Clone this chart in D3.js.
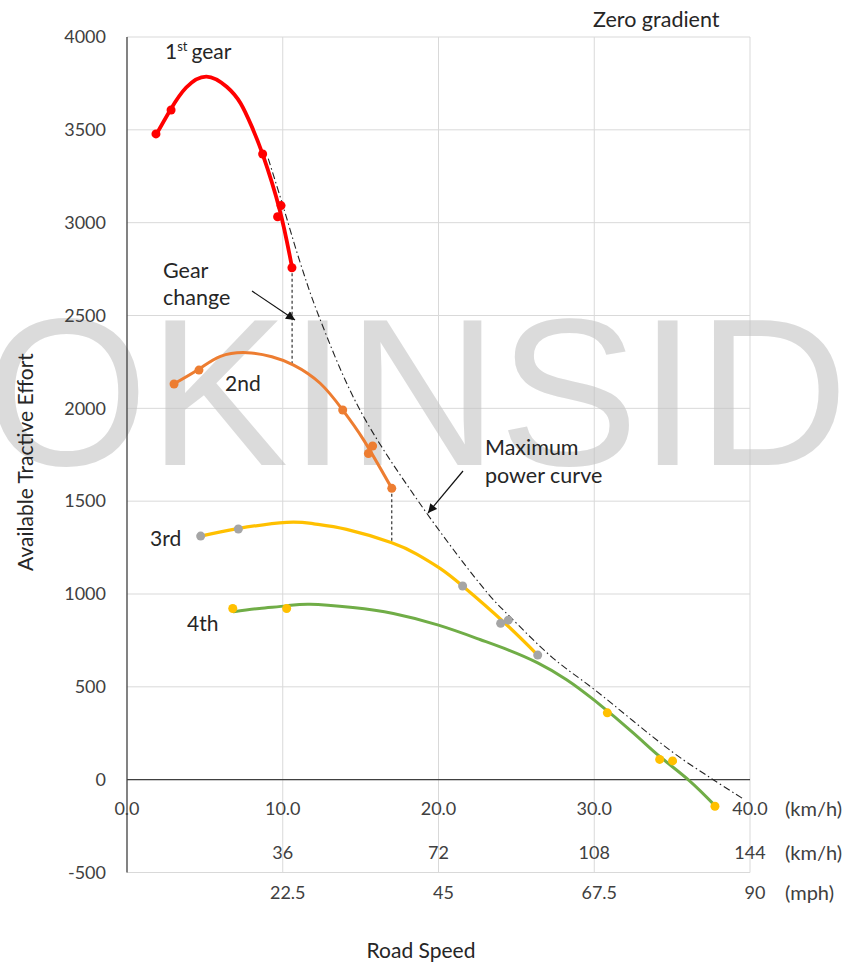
<!DOCTYPE html>
<html>
<head>
<meta charset="utf-8">
<script src="https://cdn.jsdelivr.net/npm/d3@7"></script>
<style>
  body { margin: 0; background: #fff; }
  svg { display: block; font-family: Lato, "Open Sans", sans-serif; }
</style>
</head>
<body>
<div id="chart"></div>
<script>
// Road speed (x) vs available tractive effort (y)
const yTicks = [-500, 0, 500, 1000, 1500, 2000, 2500, 3000, 3500, 4000];
const xTicks = [0, 10, 20, 30, 40];
const kmhLabels = ["", "36", "72", "108", "144"];
const mphLabels = ["", "22.5", "45", "67.5", "90"];

// fitted curves
const gear1Curve = [[1.9, 3478], [2.8, 3610], [3.8, 3728], [5.1, 3787], [6.4, 3732], [7.3, 3642], [8.0, 3520], [8.7, 3370], [9.8, 3070], [10.6, 2757]];
const gear2Curve = [[3.0, 2131], [4.6, 2210], [6.0, 2280], [7.7, 2300], [9.3, 2278], [10.7, 2233], [12.4, 2135], [13.85, 1991], [15.2, 1829], [17.0, 1569]];
const gear3Curve = [[4.73, 1312], [7.1, 1352], [10.25, 1386], [12.0, 1378], [14.1, 1348], [17.0, 1276], [18.6, 1215], [20.1, 1138], [21.55, 1043], [24.2, 848], [26.37, 671]];
const gear4Curve = [[6.85, 904], [8.5, 922], [10.25, 936], [11.75, 945], [14.5, 927], [17.1, 895], [20.0, 832], [22.66, 755], [24.5, 698], [26.4, 628], [28.2, 540], [30.0, 428], [32.5, 252], [34.2, 125], [36.1, -5], [37.75, -140]];
const maxPowerCurve = [[9.07, 3345], [10.0, 3095], [11.1, 2790], [12.3, 2500], [14.9, 2000], [18.7, 1500], [23.2, 1000], [24.6, 877], [27.35, 655], [30.0, 486], [35.0, 150], [37.64, 0], [39.5, -100]];

// measured points
const gear1Points = [[1.86, 3478], [2.83, 3607], [8.71, 3370], [9.89, 3092], [9.67, 3032], [10.59, 2757]];
const gear2Points = [[3.02, 2131], [4.62, 2206], [13.85, 1991], [15.77, 1797], [15.5, 1757], [17.0, 1569]];
const gear3Points = [[4.73, 1312], [7.15, 1350], [21.55, 1043], [23.99, 842], [24.48, 859], [26.37, 671]];
const gear4Points = [[6.79, 922], [10.25, 922], [30.84, 360], [34.2, 109], [35.03, 101], [37.75, -143]];

// gear change drop lines
const gearChanges = [[10.6, 2757, 2233], [17.0, 1569, 1280]];

const W = 854, H = 965;
const svg = d3.select("#chart").append("svg")
    .attr("width", W)
    .attr("height", H);

const x = d3.scaleLinear().domain([0, 40]).range([127, 750]);
const y = d3.scaleLinear().domain([-500, 4000]).range([872.5, 37]);

// Grid
svg.append("g")
    .selectAll("line")
    .data(yTicks)
    .join("line")
    .attr("x1", x(0)).attr("x2", x(40))
    .attr("y1", d => y(d)).attr("y2", d => y(d))
    .attr("stroke", "#d9d9d9").attr("stroke-width", 1);

svg.append("g")
    .selectAll("line")
    .data(xTicks.slice(1))
    .join("line")
    .attr("x1", d => x(d)).attr("x2", d => x(d))
    .attr("y1", y(4000)).attr("y2", y(-500))
    .attr("stroke", "#d9d9d9").attr("stroke-width", 1);

// Watermark
svg.append("text")
    .attr("x", -15)
    .attr("y", 465)
    .style("font-family", "'Liberation Sans', Arial, sans-serif")
    .style("font-size", "210px")
    .attr("fill", "#c4c4c4")
    .attr("opacity", 0.6)
    .text("OKINSID");

// Axis lines
svg.append("line")
    .attr("x1", x(0)).attr("x2", x(0))
    .attr("y1", y(4000)).attr("y2", y(-500))
    .attr("stroke", "#404040").attr("stroke-width", 1.3);
svg.append("line")
    .attr("x1", x(0)).attr("x2", x(40))
    .attr("y1", y(0)).attr("y2", y(0))
    .attr("stroke", "#404040").attr("stroke-width", 1.3);

// Y tick labels
const yAxis = svg.append("g")
    .attr("transform", `translate(${x(0)},0)`)
    .call(d3.axisLeft(y).tickValues(yTicks).tickSize(0).tickPadding(21).tickFormat(d => String(d)));
yAxis.select(".domain").remove();
yAxis.selectAll("text")
    .style("font-family", "Lato, sans-serif")
    .style("font-size", "18px")
    .attr("fill", "#404040");

// X tick label rows
const rowFont = sel => sel
    .attr("text-anchor", "middle")
    .attr("dominant-baseline", "central")
    .style("font-size", "18px")
    .attr("fill", "#404040");

svg.append("g").selectAll("text")
    .data(xTicks)
    .join("text")
    .attr("x", d => x(d))
    .attr("y", 808)
    .text(d => d3.format(".1f")(d))
    .call(rowFont);

svg.append("g").selectAll("text")
    .data(xTicks)
    .join("text")
    .attr("x", d => x(d))
    .attr("y", 852)
    .text((d, i) => kmhLabels[i])
    .call(rowFont);

svg.append("g").selectAll("text")
    .data(xTicks)
    .join("text")
    .attr("x", d => x(d) + 5)
    .attr("y", 892)
    .text((d, i) => mphLabels[i])
    .call(rowFont);

[["(km/h)", 808], ["(km/h)", 852], ["(mph)", 892]].forEach(([t, yy]) => {
    svg.append("text")
        .attr("x", 785)
        .attr("y", yy)
        .attr("dominant-baseline", "central")
        .style("font-size", "20px")
        .attr("fill", "#404040")
        .text(t);
});

// Axis titles
svg.append("text")
    .attr("x", 421)
    .attr("y", 958)
    .attr("text-anchor", "middle")
    .style("font-size", "21px")
    .attr("fill", "#262626")
    .text("Road Speed");

svg.append("text")
    .attr("transform", "rotate(-90)")
    .attr("x", -462)
    .attr("y", 33)
    .attr("text-anchor", "middle")
    .style("font-size", "21px")
    .attr("fill", "#262626")
    .text("Available Tractive Effort");

svg.append("text")
    .attr("x", 593)
    .attr("y", 27)
    .style("font-size", "21.5px")
    .attr("fill", "#262626")
    .text("Zero gradient");

// Curves
const line = d3.line()
    .x(d => x(d[0]))
    .y(d => y(d[1]))
    .curve(d3.curveNatural);

svg.append("path")
    .datum(maxPowerCurve)
    .attr("fill", "none")
    .attr("stroke", "#222")
    .attr("stroke-width", 1.1)
    .attr("stroke-dasharray", "7,3,1.5,3")
    .attr("d", line.curve(d3.curveCatmullRom.alpha(0.5)));

line.curve(d3.curveNatural);

// Gear change drop lines
svg.append("g").selectAll("line")
    .data(gearChanges)
    .join("line")
    .attr("x1", d => x(d[0])).attr("x2", d => x(d[0]))
    .attr("y1", d => y(d[1])).attr("y2", d => y(d[2]))
    .attr("stroke", "#222")
    .attr("stroke-width", 1.1)
    .attr("stroke-dasharray", "3,2.5");

// Gears
const gears = [
    { curve: gear4Curve, points: gear4Points, line: "#70ad47", marker: "#ffc000", width: 3 },
    { curve: gear3Curve, points: gear3Points, line: "#ffc000", marker: "#a5a5a5", width: 3.2 },
    { curve: gear2Curve, points: gear2Points, line: "#ed7d31", marker: "#ed7d31", width: 3 },
    { curve: gear1Curve, points: gear1Points, line: "#ff0000", marker: "#ff0000", width: 3.8 }
];

gears.forEach(g => {
    svg.append("path")
        .datum(g.curve)
        .attr("fill", "none")
        .attr("stroke", g.line)
        .attr("stroke-width", g.width)
        .attr("stroke-linecap", "round")
        .attr("d", line);

    svg.append("g").selectAll("circle")
        .data(g.points)
        .join("circle")
        .attr("cx", d => x(d[0]))
        .attr("cy", d => y(d[1]))
        .attr("r", 4.5)
        .attr("fill", g.marker);
});

// Arrow marker
svg.append("defs").append("marker")
    .attr("id", "arrow")
    .attr("viewBox", "0 0 10 10")
    .attr("refX", 10).attr("refY", 5)
    .attr("markerWidth", 10).attr("markerHeight", 9)
    .attr("markerUnits", "userSpaceOnUse")
    .attr("orient", "auto")
    .append("path")
    .attr("d", "M0,0 L10,5 L0,10 z")
    .attr("fill", "#111");

// Annotations
const annot = (tx, ty, lines, size, dy) => {
    const t = svg.append("text")
        .attr("x", tx).attr("y", ty)
        .style("font-size", size + "px")
        .attr("fill", "#262626");
    lines.forEach((l, i) => {
        t.append("tspan").attr("x", tx).attr("dy", i === 0 ? 0 : dy).text(l);
    });
};

const first = svg.append("text")
    .attr("x", 165).attr("y", 59)
    .style("font-size", "21px")
    .attr("fill", "#262626");
first.append("tspan").text("1");
first.append("tspan").attr("dy", -8).style("font-size", "13px").text("st");
first.append("tspan").attr("dy", 8).attr("dx", 4).text("gear");

annot(163, 278, ["Gear", "change"], 21.5, 27);
annot(225, 391, ["2nd"], 21, 0);
annot(150, 546, ["3rd"], 21, 0);
annot(187, 631, ["4th"], 21, 0);
annot(485, 455, ["Maximum", "power curve"], 21.5, 28);

svg.append("line")
    .attr("x1", 252).attr("y1", 291)
    .attr("x2", 295).attr("y2", 320)
    .attr("stroke", "#111").attr("stroke-width", 1.2)
    .attr("marker-end", "url(#arrow)");

svg.append("line")
    .attr("x1", 463).attr("y1", 471)
    .attr("x2", 428).attr("y2", 513)
    .attr("stroke", "#111").attr("stroke-width", 1.2)
    .attr("marker-end", "url(#arrow)");
</script>
</body>
</html>
